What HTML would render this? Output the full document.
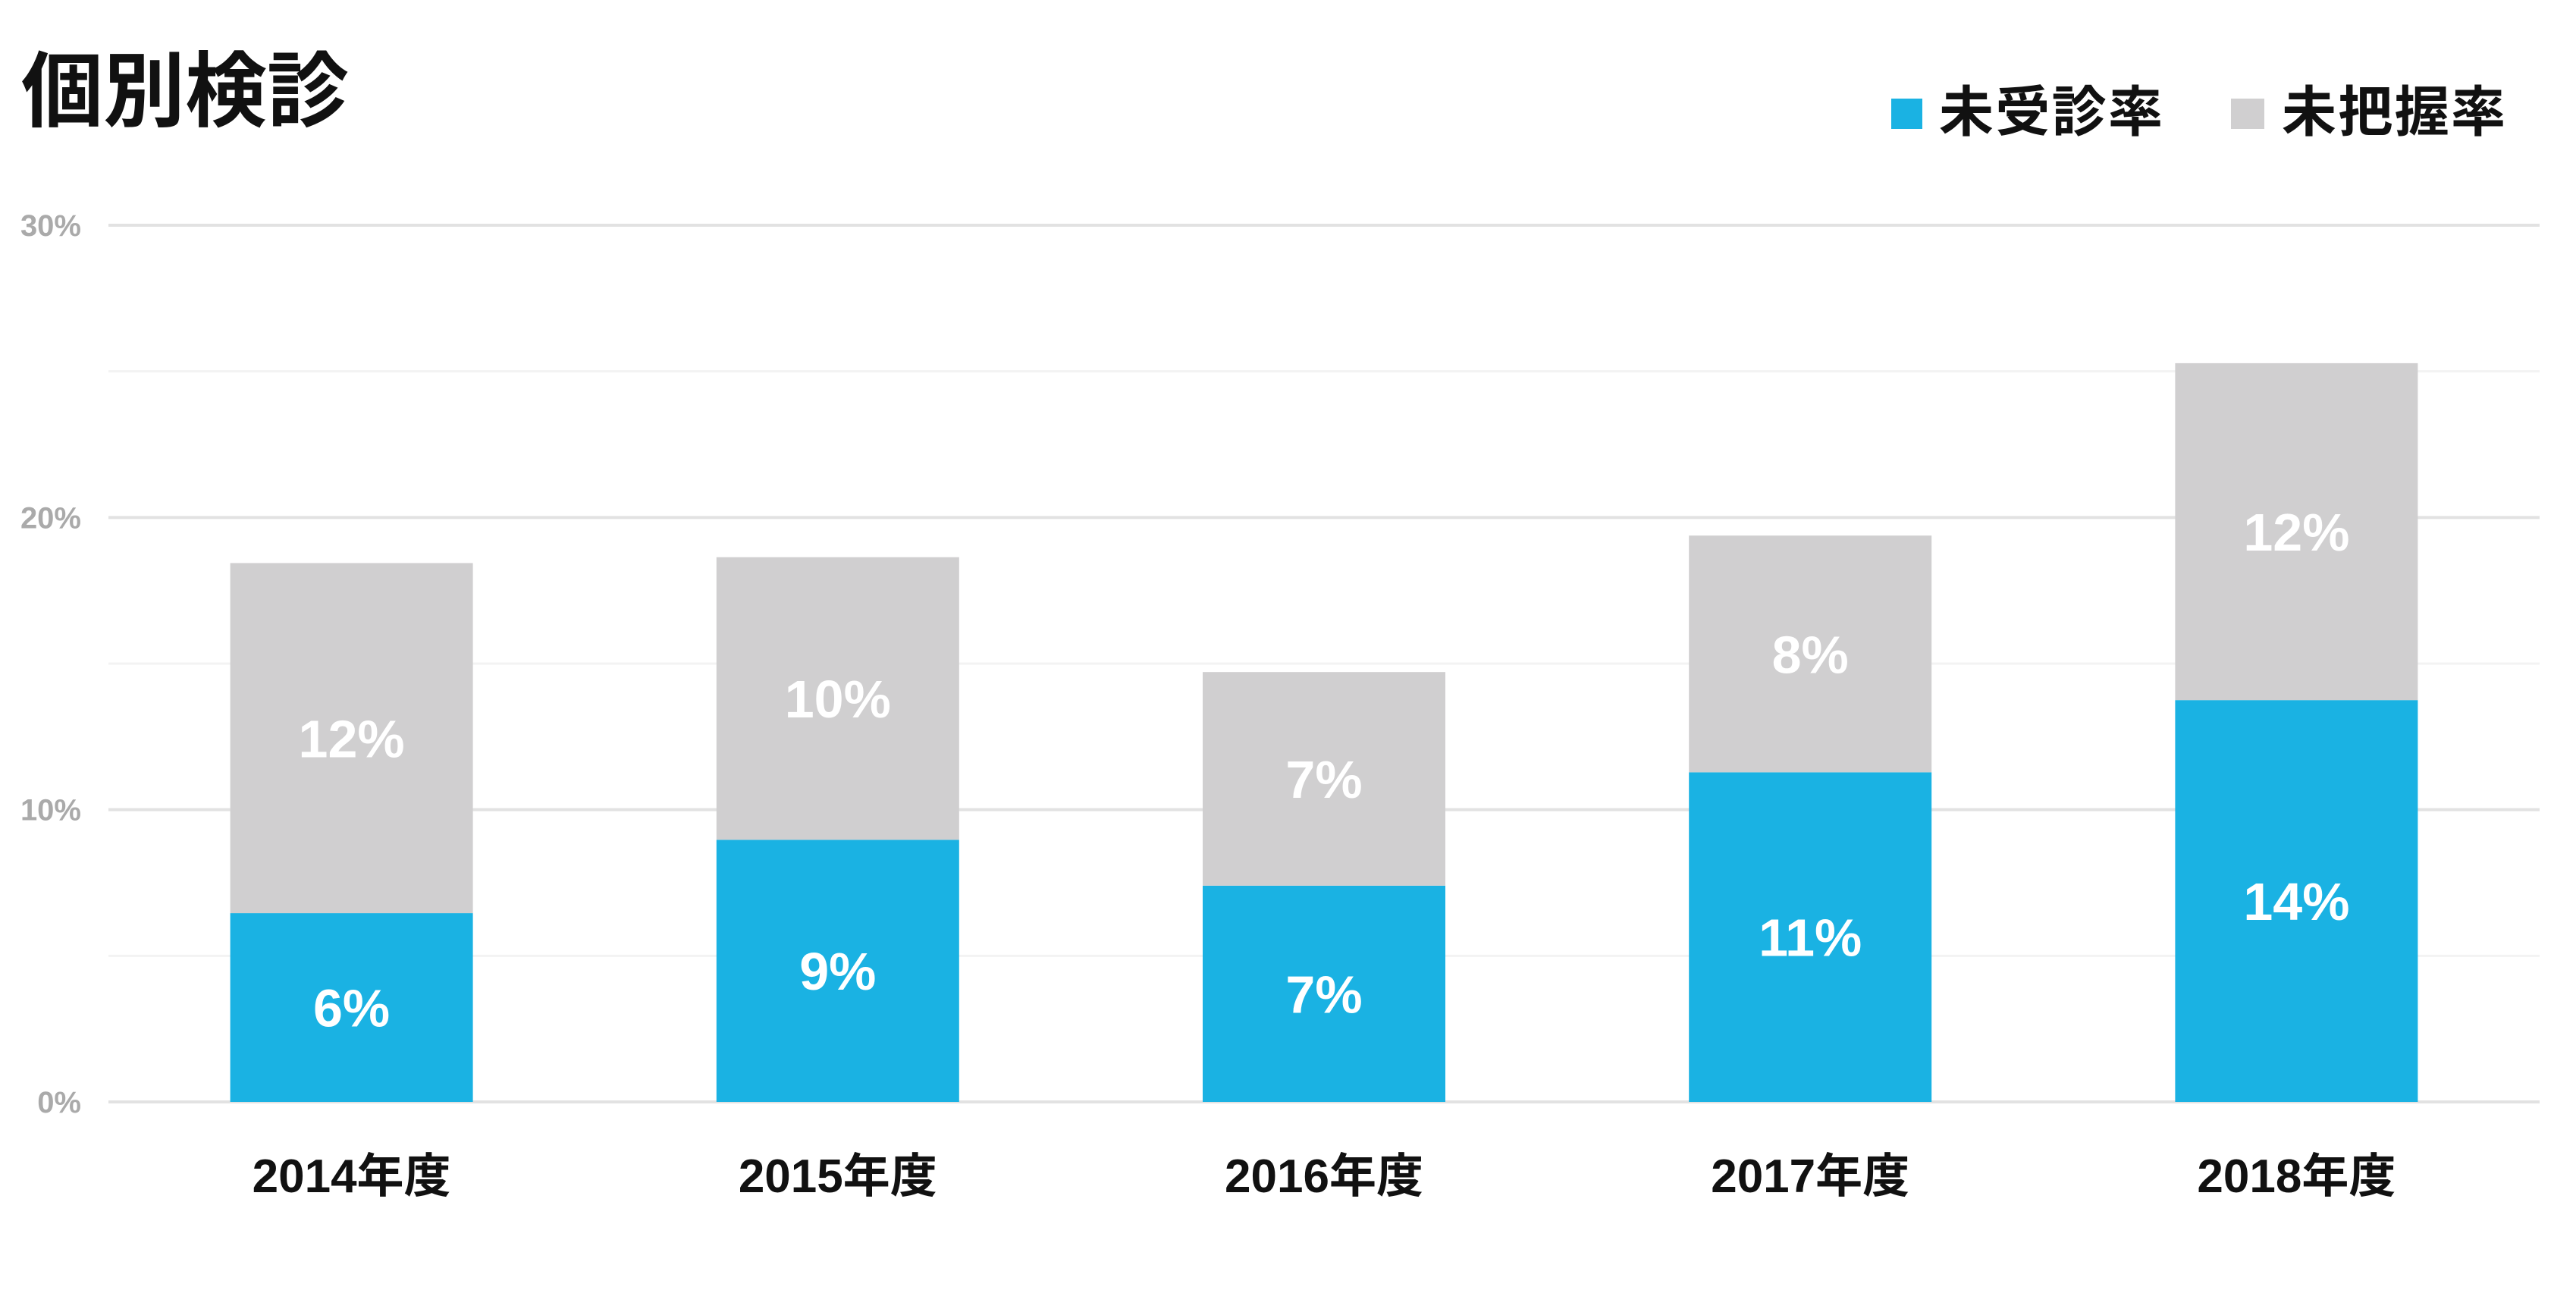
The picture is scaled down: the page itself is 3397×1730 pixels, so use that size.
<!DOCTYPE html>
<html><head><meta charset="utf-8"><style>
html,body{margin:0;padding:0;background:#fff;}
svg{display:block;font-family:"Liberation Sans","Noto Sans CJK JP",sans-serif;}
</style></head><body>
<svg id="chart" width="3397" height="1730" viewBox="0 0 3397 1730" xmlns="http://www.w3.org/2000/svg">
<text x="28" y="158" font-size="108" font-weight="bold" fill="#111" font-family="'Noto Sans CJK JP',sans-serif">個別検診</text>
<g>
<rect x="2494" y="130" width="41" height="40" fill="#1ab2e3"/>
<text x="2557" y="173" font-size="72" font-weight="bold" fill="#111" font-family="'Noto Sans CJK JP',sans-serif" textLength="295">未受診率</text>
<rect x="2942" y="130" width="44" height="40" fill="#d0cfd0"/>
<text x="3009" y="173" font-size="72" font-weight="bold" fill="#111" font-family="'Noto Sans CJK JP',sans-serif" textLength="295">未把握率</text>
</g>
<g id="grid"></g><g id="bars"></g><g id="labels"></g>
</svg>
<script>
const categories = ["2014年度","2015年度","2016年度","2017年度","2018年度"];
const unexamined = [6.46, 8.97, 7.40, 11.28, 13.75];
const unknown = [11.98, 9.67, 7.31, 8.10, 11.53];
const unexaminedLabels = ["6%","9%","7%","11%","14%"];
const unknownLabels = ["12%","10%","7%","8%","12%"];
const tickValues = [0, 10, 20, 30];
const tickLabels = ["0%","10%","20%","30%"];
const minorTicks = [5, 15, 25];

const NS = "http://www.w3.org/2000/svg";
const x0 = 143, x1 = 3349, yZero = 1453, yTop = 297, yMax = 30;
const band = (x1 - x0) / categories.length;
const barW = 320;
function y(v){ return yZero - (v / yMax) * (yZero - yTop); }
function xc(i){ return x0 + band * (i + 0.5); }
function mk(tag, attrs, parent){
  const e = document.createElementNS(NS, tag);
  for (const k in attrs) e.setAttribute(k, attrs[k]);
  parent.appendChild(e); return e;
}
const grid = document.getElementById('grid');
const bars = document.getElementById('bars');
const labels = document.getElementById('labels');
minorTicks.forEach(v => {
  const l = mk('line', {x1:x0, x2:x1, y1:y(v), y2:y(v), stroke:'#f3f3f3', 'stroke-width':3}, grid);
  
  
});
tickValues.forEach((v, i) => {
  const l = mk('line', {x1:x0, x2:x1, y1:y(v), y2:y(v), stroke:'#e2e2e2', 'stroke-width':4}, grid);
  
  
  const t = mk('text', {x:107, y:y(v) + 14, 'text-anchor':'end', 'font-size':40, 'font-weight':'bold', fill:'#aaaaaa'}, grid);
  t.textContent = tickLabels[i];
  
  
});
categories.forEach((c, i) => {
  const cx = xc(i), bx = cx - barW / 2;
  const a = unexamined[i], b = unknown[i];
  const r1 = mk('rect', {x:bx, y:y(a), width:barW, height:y(0) - y(a), fill:'#1ab2e3'}, bars);
  
  
  const r2 = mk('rect', {x:bx, y:y(a + b), width:barW, height:y(a) - y(a + b), fill:'#d0cfd0'}, bars);
  
  
  const t1 = mk('text', {x:cx, y:(y(0) + y(a)) / 2 + 25, 'text-anchor':'middle', 'font-size':70, 'font-weight':'bold', fill:'#fff'}, labels);
  t1.textContent = unexaminedLabels[i];
  
  
  const t2 = mk('text', {x:cx, y:(y(a) + y(a + b)) / 2 + 25, 'text-anchor':'middle', 'font-size':70, 'font-weight':'bold', fill:'#fff'}, labels);
  t2.textContent = unknownLabels[i];
  
  
  const t3 = mk('text', {x:cx, y:1572, 'text-anchor':'middle', 'font-size':62, 'font-weight':'bold', fill:'#111', 'font-family':"'Liberation Sans','Noto Sans CJK JP',sans-serif"}, labels);
  t3.textContent = c;
  
  
});
</script>
</body></html>
